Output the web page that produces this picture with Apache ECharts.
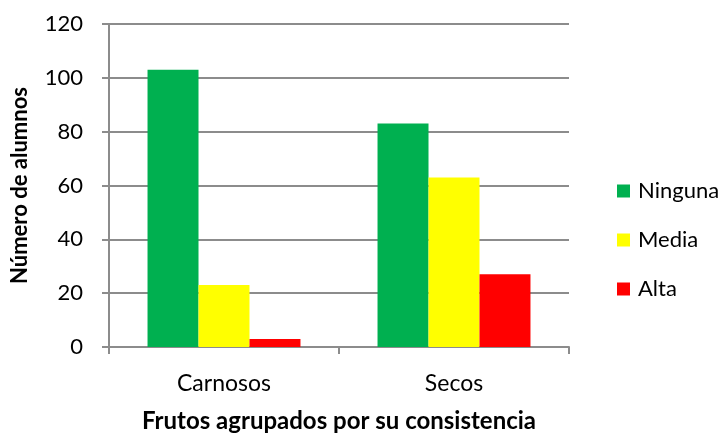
<!DOCTYPE html>
<html>
<head>
<meta charset="utf-8">
<script src="https://cdn.jsdelivr.net/npm/echarts@6/dist/echarts.min.js"></script>
<style>
  html, body { margin: 0; padding: 0; background: #fff; }
  #chart { width: 726px; height: 438px; }
</style>
</head>
<body>
<div id="chart"></div>
<script>
// Fruit groups and the number of students per difficulty level
const categories = ['Carnosos', 'Secos'];
const ninguna = [103, 83];
const media = [23, 63];
const alta = [3, 27];
const seriesNames = ['Ninguna', 'Media', 'Alta'];
const seriesColors = ['#00B050', '#FFFF00', '#FF0000'];

const FONT = 'Lato, "Open Sans", sans-serif';
const axisGray = '#8c8c8c';

const chart = echarts.init(document.getElementById('chart'), null, { renderer: 'canvas' });

const values = [ninguna, media, alta];

chart.setOption({
  animation: false,
  textStyle: { fontFamily: FONT },
  grid: { left: 109, right: 157, top: 24, bottom: 89, containLabel: false },
  legend: {
    orient: 'vertical',
    left: 612,
    top: 175,
    itemWidth: 13,
    itemHeight: 13,
    itemGap: 27,
    icon: 'rect',
    textStyle: { fontFamily: FONT, fontSize: 22, color: '#000', padding: [0, 0, 0, 3] },
    data: seriesNames
  },
  xAxis: {
    type: 'category',
    data: categories,
    name: 'Frutos agrupados por su consistencia',
    nameLocation: 'middle',
    nameGap: 62,
    nameTextStyle: { fontFamily: FONT, fontSize: 24, fontWeight: 'bold', color: '#000' },
    axisLine: { lineStyle: { color: axisGray, width: 2 } },
    axisTick: { show: true, length: 7, alignWithLabel: false, lineStyle: { color: axisGray, width: 2 } },
    axisLabel: { fontFamily: FONT, fontSize: 23, color: '#000', margin: 25 }
  },
  yAxis: {
    type: 'value',
    min: 0,
    max: 120,
    interval: 20,
    name: 'Número de alumnos',
    nameLocation: 'middle',
    nameGap: 78,
    nameTextStyle: { fontFamily: FONT, fontSize: 22, fontWeight: 'bold', color: '#000' },
    axisLine: { show: true, lineStyle: { color: axisGray, width: 2 } },
    axisTick: { show: true, length: 7, lineStyle: { color: axisGray, width: 2 } },
    axisLabel: { fontFamily: FONT, fontSize: 22, color: '#000', margin: 26 },
    splitLine: { lineStyle: { color: axisGray, width: 2 } }
  },
  series: seriesNames.map((name, i) => ({
    name: name,
    type: 'bar',
    data: values[i],
    barGap: '0%',
    barCategoryGap: '33.5%',
    itemStyle: { color: seriesColors[i] }
  }))
});
</script>
</body>
</html>
